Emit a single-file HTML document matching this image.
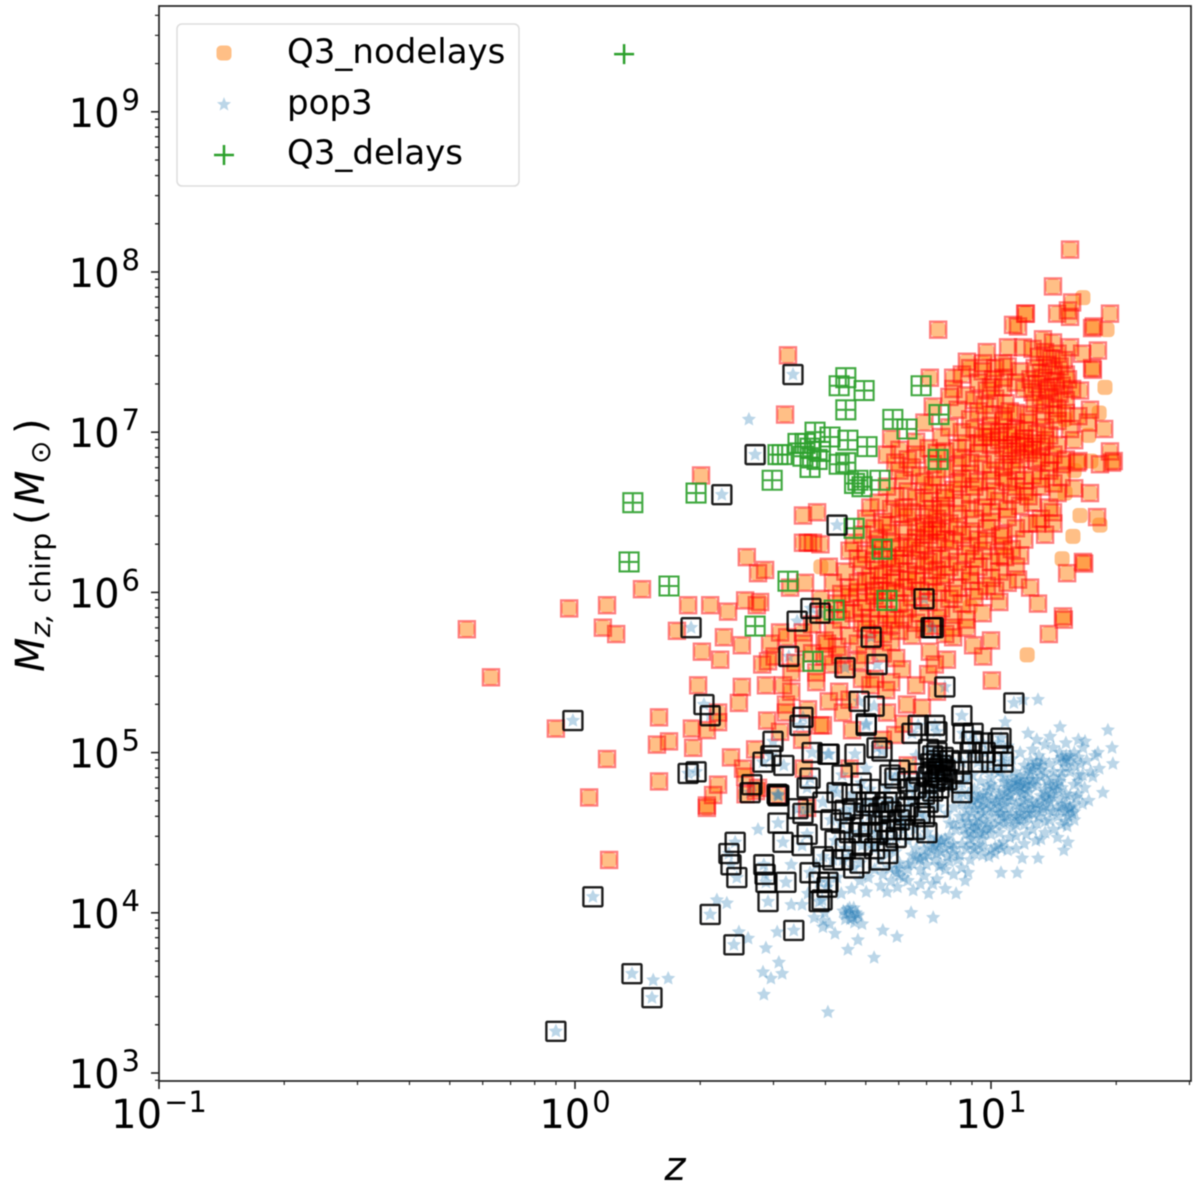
<!DOCTYPE html>
<html lang="en">
<head>
<meta charset="utf-8">
<title>Chirp mass vs redshift</title>
<style>
html,body{margin:0;padding:0;background:#fff;}
svg{display:block;filter:blur(0.45px);}
text{font-family:"DejaVu Sans","Liberation Sans",sans-serif;fill:#000;}
</style>
</head>
<body>
<svg id="chart" xmlns="http://www.w3.org/2000/svg" width="1200" height="1194" viewBox="0 0 1200 1194">
  <rect x="159" y="6" width="1032" height="1075" fill="#fff"/>
  <g id="marks"></g>
  <g id="axes"></g>
  <rect x="159" y="6" width="1032" height="1075" fill="none" stroke="#222" stroke-width="1.7"/>
  <g>
    <rect x="177" y="24" width="342" height="162" rx="5" fill="#fff" fill-opacity="0.8" stroke="#ddd" stroke-width="1.5"/>
    <rect x="216.5" y="45.5" width="15" height="15" rx="4.5" fill="#ff7f0e" fill-opacity="0.5"/>
    <text x="287" y="63" font-size="34">Q3_nodelays</text>
    <polygon points="224,97 225.9,101.9 231.1,102.2 227.1,105.5 228.4,110.6 224,107.8 219.6,110.6 220.9,105.5 216.9,102.2 222.1,101.9" fill="#1f77b4" fill-opacity="0.3"/>
    <text x="287" y="114" font-size="34">pop3</text>
    <path d="M214 155H234M224 145V165" stroke="#2ca02c" stroke-width="2.5" fill="none"/>
    <text x="287" y="164" font-size="34">Q3_delays</text>
  </g>
  <text x="675" y="1180" font-size="40" font-style="italic" text-anchor="middle">z</text>
  <text transform="translate(44,672) rotate(-90)" font-size="40"><tspan font-style="italic" x="0" y="0">M</tspan><tspan font-style="italic" font-size="28" x="35" y="6">z,</tspan><tspan font-size="28" x="69" y="6">chirp</tspan><tspan x="147" y="0">(</tspan><tspan font-style="italic" x="167" y="0">M</tspan><tspan font-size="28" x="208" y="6">⊙</tspan><tspan x="238" y="0">)</tspan></text>
</svg>
<script>
// Values: each pair is [log10 z, log10 M_chirp].
const xTickExponents = [-1, 0, 1];
const yTickExponents = [3, 4, 5, 6, 7, 8, 9];
const minorMultipliers = [2, 3, 4, 5, 6, 7, 8, 9];

const q3DelaysOnlyPlus = [[0.118, 9.36]];

const q3Delays = [[.139,6.56],[.130,6.19],[.226,6.04],[.291,6.62],[.488,6.86],[.474,6.70],[.433,5.79],[.512,6.07],[.651,7.34],[.635,7.29],[.695,7.26],[.651,7.14],[.832,7.29],[.875,7.11],[.764,7.08],[.798,7.02],[.873,6.83],[.577,7.00],[.536,6.93],[.553,6.93],[.565,6.90],[.613,6.97],[.656,6.95],[.702,6.91],[.651,6.81],[.548,6.85],[.582,6.83],[.565,6.78],[.680,6.70],[.690,6.66],[.733,6.70],[.671,6.40],[.738,6.27],[.75,5.95],[.623,5.89],[.498,6.86],[.572,5.57],[.635,6.80],[.672,6.68],[.59,6.88]];

const q3Matched = [
[-.26,5.77],[-.202,5.47],[-.046,5.15],[-.014,5.90],[.077,5.92],[.067,5.78],[.099,5.74],[.161,6.02],[.034,4.72],[.077,4.96],[.082,4.33],[.202,5.22],[.202,4.82],[.197,5.05],[.226,5.07],[.284,5.03],[.344,4.80],[.332,4.735],[.317,4.67],[.317,4.655],[.281,5.15],[.317,5.14],[.344,5.25],[.344,5.19],[.394,5.31],[.296,5.42],[.401,5.41],[.459,5.42],[.5,5.42],[.507,5.30],[.507,5.25],[.462,5.20],[.493,5.13],[.589,5.17],[.546,5.08],[.375,4.97],[.433,5.02],[.404,4.90],[.409,4.85],[.486,4.735],[.558,4.655],
[.512,7.48],[.505,7.11],[.303,6.73],[.548,6.48],[.582,6.50],[.548,6.31],[.56,6.31],[.572,6.31],[.59,6.30],[.413,6.22],[.457,6.14],[.44,6.12],[.553,6.06],[.517,6.03],[.272,5.92],[.325,5.92],[.368,5.88],[.409,5.95],[.445,5.94],[.437,5.92],[.245,5.76],[.358,5.72],[.401,5.67],[.305,5.63],[.349,5.58],[.469,5.68],[.493,5.75],[.51,5.72],[.548,5.75],[.45,5.55],[.464,5.57],
[1.0,5.70],[1.139,5.74],[1.175,5.83],[.981,5.60],[.957,5.67],[1.002,5.45],[.853,5.63],[.894,5.58],[.865,5.55],[.849,5.49],[.772,5.59],[.786,5.52],[.748,5.39],[.635,5.38],[.644,5.25],[.798,5.30],[.834,5.28],[.75,5.25],[.666,5.14],[.596,5.17],[.637,5.61],[.606,5.68],[.697,5.61],[.80,4.92],[.909,5.72],[.942,5.78],[.906,5.78],
[1.19,8.14],[1.149,7.91],[1.286,7.74],[1.082,7.74],[1.084,7.74],[1.053,7.67],[1.065,7.66],[.873,7.64],[1.159,7.74],[1.195,7.81],[1.19,7.72],[1.185,7.76],[1.243,7.65],[1.247,7.66],
[.99,7.50],[1.041,7.53],[1.077,7.53],[1.125,7.58],[1.149,7.56],[1.19,7.53],[1.257,7.51],[.942,7.44],[.981,7.43],[1.029,7.43],[.853,7.34],[.909,7.34],[.93,7.36],[.99,7.26],[1.005,7.33],[1.029,7.28],[1.219,7.49],[1.243,7.40],[1.245,7.39],[1.214,7.26],[1.238,7.14],[1.233,7.06],[1.272,7.02],[1.286,6.88],[1.291,6.81],[1.295,6.82],[1.262,6.80],[1.207,6.81],[1.21,6.82],[1.238,6.62],[1.255,6.47],[1.183,6.12],[1.221,6.19],[1.224,6.18],[1.173,5.85],[1.113,5.93],[1.094,6.03],[1.065,6.08],[1.07,6.23],[1.034,6.22],[1.022,6.35],[1.111,6.43],[1.149,6.50],
[1.10,7.52],[1.115,7.47],[1.13,7.50],[1.145,7.46],[1.16,7.49],[1.175,7.45],[1.105,7.40],[1.12,7.37],[1.135,7.42],[1.15,7.38],[1.165,7.41],[1.18,7.36],[1.095,7.33],[1.11,7.30],[1.125,7.34],[1.14,7.28],[1.155,7.32],[1.17,7.29],[1.185,7.33],[1.10,7.25],[1.12,7.22],[1.135,7.26],[1.15,7.21],[1.165,7.24],[1.18,7.20],[1.195,7.27],[1.105,7.18],[1.13,7.17],[1.16,7.15],
[.96,7.20],[.90,7.22],[.985,7.17],[.92,7.14],[1.01,7.21],[1.035,7.18],[.86,7.16],[1.045,7.13],
[.84,7.06],[.90,7.03],[.95,7.08],[1.00,7.04],[1.03,7.07],[1.06,7.02],[1.09,7.06],[1.13,7.03],[1.16,7.07],[1.19,7.02],[1.02,7.00],[1.05,7.00],[1.08,7.01],[1.11,6.99],[1.14,6.98],
[.76,6.96],[.82,6.94],[.88,6.97],[.94,6.93],[.98,6.97],[1.00,6.92],[1.02,6.95],[1.05,6.92],[1.08,6.96],[1.10,6.93],[1.13,6.95],[1.16,6.92],[1.20,6.95],[1.04,6.98],[1.07,6.94],[1.12,6.91],
[.75,6.86],[.80,6.83],[.87,6.87],[.93,6.84],[.97,6.87],[1.01,6.83],[1.04,6.86],[1.07,6.83],[1.09,6.87],[1.12,6.84],[1.15,6.86],[1.18,6.83],[1.03,6.90],[1.10,6.89],
[.78,6.76],[.83,6.73],[.89,6.77],[.95,6.74],[1.00,6.76],[1.03,6.72],[1.06,6.76],[1.10,6.73],[1.14,6.76],[1.17,6.72],
[.75,6.66],[.80,6.63],[.86,6.67],[.91,6.64],[.96,6.66],[1.01,6.63],[1.06,6.66],[1.08,6.63],[1.12,6.66],[1.16,6.62],[1.20,6.65],[.92,6.68],[.89,6.62],
[.73,6.56],[.79,6.53],[.84,6.57],[.88,6.54],[.93,6.56],[.98,6.53],[1.02,6.57],[1.07,6.54],[1.10,6.56],[1.14,6.53],[.86,6.52],[.82,6.59],
[.70,6.46],[.74,6.44],[.80,6.47],[.84,6.43],[.87,6.46],[.90,6.43],[.96,6.46],[1.00,6.44],[1.04,6.47],[1.09,6.43],[1.12,6.46],[1.15,6.43],[.82,6.41],[.78,6.49],
[.69,6.36],[.73,6.33],[.76,6.37],[.82,6.34],[.85,6.36],[.89,6.33],[.93,6.36],[.97,6.33],[1.03,6.36],[1.08,6.33],[1.13,6.36],[.80,6.31],[.87,6.39],
[.66,6.26],[.70,6.24],[.74,6.27],[.79,6.23],[.83,6.26],[.86,6.23],[.90,6.27],[.94,6.24],[.98,6.26],[1.02,6.23],[1.05,6.27],[.81,6.28],[.77,6.21],
[.61,6.16],[.65,6.13],[.69,6.17],[.73,6.14],[.76,6.16],[.80,6.13],[.84,6.17],[.87,6.14],[.90,6.16],[.93,6.13],[.97,6.16],[1.02,6.13],[1.06,6.16],[.78,6.18],[.74,6.11],[.82,6.11],
[.62,6.06],[.66,6.03],[.70,6.07],[.73,6.04],[.76,6.06],[.79,6.03],[.82,6.07],[.85,6.04],[.88,6.06],[.92,6.03],[.95,6.07],[.99,6.04],[1.04,6.06],[.75,6.01],[.68,6.00],
[.59,5.96],[.63,5.93],[.66,5.97],[.70,5.94],[.74,5.96],[.78,5.93],[.81,5.97],[.85,5.94],[.90,5.96],[.93,5.93],[.96,5.97],[1.02,5.94],[.72,5.98],
[.60,5.86],[.64,5.83],[.67,5.87],[.71,5.84],[.75,5.86],[.77,5.83],[.83,5.87],[.87,5.84],[.91,5.86],[.94,5.83],[.98,5.87],[.65,5.89],
[.62,5.76],[.66,5.73],[.70,5.77],[.74,5.74],[.78,5.76],[.81,5.73],[.84,5.77],[.89,5.74],[.57,5.80],[.55,5.68],[.60,5.60],[.65,5.52],[.69,5.46],[.71,5.42],[.58,5.44],[.53,5.56],[.48,5.60],[.52,5.38],[.61,5.32],[.56,5.27],[.66,5.33],
[.41,4.74],[.44,4.78],[.435,4.76],[.55,4.90],[.72,5.46],[.76,5.44],[.82,5.42],[.87,5.38],[.79,5.18],[.74,5.08],[.77,5.11],[.66,4.90],
[.95,7.40],[.98,7.38],[1.01,7.40],[1.04,7.41],[1.07,7.38],[.97,7.31],[1.00,7.28],[1.03,7.34],[1.06,7.31],[1.08,7.27],[.91,7.27],[.94,7.23],[.97,7.13],[1.00,7.11],[1.03,7.10],[1.06,7.12],[1.09,7.11],[1.12,7.10],[1.15,7.11],[1.18,7.12],[1.21,7.10],[.93,7.00],[.96,7.02],[.99,7.00],[1.00,6.97],[.97,6.93],[.92,6.90],[.89,6.88],[.85,6.90],[.82,6.86],[.78,6.89],[1.06,6.88],[1.08,6.91],[1.11,6.82],[1.14,6.81],[1.17,6.80],[1.05,6.80],[1.03,6.78],[.98,6.80],[.95,6.81],[.92,6.79],[.86,6.80],[.81,6.78],[.77,6.81],[1.08,6.70],[1.12,6.71],[1.04,6.69],[1.00,6.70],[.97,6.69],[.93,6.71],[.87,6.72],[.84,6.69],[.79,6.70],[1.15,6.68],[1.09,6.60],[1.05,6.61],[.99,6.60],[.95,6.61],[.89,6.59],[.85,6.62],[.77,6.60],[.76,6.52],[.81,6.50],[.85,6.49],[.89,6.50],[.92,6.49],[.95,6.52],[1.00,6.50],[1.04,6.52],[.71,6.53],[.72,6.40],[.75,6.42],[.79,6.39],[.84,6.38],[.86,6.41],[.88,6.38],[.92,6.41],[.95,6.38],[.99,6.40],[1.06,6.40],[.67,6.31],[.72,6.29],[.76,6.31],[.78,6.28],[.84,6.30],[.87,6.31],[.91,6.32],[.95,6.29],[.99,6.32],[1.03,6.29],[.68,6.21],[.72,6.20],[.75,6.22],[.82,6.20],[.85,6.19],[.88,6.21],[.92,6.19],[.96,6.21],[1.00,6.19],[.71,6.10],[.77,6.09],[.80,6.08],[.86,6.10],[.89,6.11],[.95,6.11],[1.00,6.09],[.68,6.06],[.72,6.01],[.77,6.00],[.83,6.01],[.87,6.00],[.91,5.99],[.97,6.01],[1.01,6.01],[.88,5.90],[.80,5.90],[.73,5.90],[.69,5.90],[.64,5.99],
[.82,5.81],[.79,5.84],[.76,5.80],[.73,5.80],[.69,5.81],[.86,5.79],[.60,5.70],[.63,5.66],[.68,5.68],[.72,5.70],[.76,5.69],[.57,5.62],[.62,5.55],[.68,5.57],[.74,5.62],[.52,5.50],[.58,5.50]
];

const q3Unmatched = [[1.221,7.84],[1.279,7.64],[1.274,7.28],[1.26,7.12],[1.178,7.08],[1.262,6.42],[1.197,6.35],[1.171,6.21],[.591,6.16],[.95,5.91],[1.087,5.61],[1.178,6.62],[1.214,6.48],[1.235,6.98],[1.20,6.76],[1.24,6.82]];

const pop3Matched = [
[.524,7.36],[.433,6.86],[.353,6.61],[.63,6.42],[.279,5.78],[.567,5.90],[.589,5.87],[.534,5.82],[.839,5.96],[.861,5.78],[.856,5.78],[.712,5.72],[.726,5.55],[.649,5.53],[.514,5.60],[.889,5.41],[1.055,5.31],[.31,5.30],[.325,5.23],[-.005,5.20],[.683,5.32],[.719,5.29],[.548,5.22],[.541,5.17],[.476,5.07],[.471,4.98],[.452,4.94],[.502,4.92],[.57,5.00],[.608,4.99],[.272,4.87],[.291,4.88],[.425,4.80],[.421,4.75],[.488,4.73],[.486,4.74],[.49,4.735],[.565,4.84],[.558,4.78],[.536,4.65],[.548,4.62],[.596,4.69],[.488,4.56],[.5,4.44],[.558,4.49],[.546,4.42],[.385,4.44],[.37,4.37],[.375,4.30],[.389,4.22],[.454,4.30],[.457,4.24],[.459,4.19],[.507,4.19],[.464,4.07],[.565,4.25],[.587,4.19],[.587,4.07],[.043,4.10],[.325,3.99],[.382,3.80],[.526,3.89],[.137,3.62],[.185,3.47],[-.046,3.26],[.596,4.35],[.606,4.16],
[.81,5.12],[.70,5.18],[.70,5.17],[.93,5.23],[.825,5.17],[.865,5.17],[.87,5.13],[.957,5.12],[.933,5.12],[.954,5.07],[1.024,5.09],[1.017,5.06],[.986,5.00],[1.029,4.98],[1.002,4.94],[1.029,4.94],[.969,4.94],[.93,4.94],[.611,4.99],[.673,4.99],[.726,5.03],[.738,5.01],[.87,5.00],
[.85,5.02],[.86,4.98],[.87,4.95],[.855,4.93],[.875,4.90],[.86,4.88],[.88,4.92],[.87,4.86],[.885,4.97],[.85,4.85],[.865,4.82],[.88,4.84],[.89,4.89],[.875,4.78],[.86,4.76],
[.93,4.81],[.93,4.75],[.757,4.86],[.769,4.84],[.642,4.86],[.688,4.81],[.827,4.87],[.63,4.75],[.668,4.65],[.721,4.69],[.769,4.69],[.75,4.69],[.873,4.66],[.849,4.69],[.615,4.58],[.69,4.55],[.745,4.57],[.846,4.50],[.683,4.50],[.772,4.47],[.728,4.50],[.752,4.37],[.685,4.31],[.644,4.33],[.62,4.33],[.608,4.19],[.594,4.08],
[.666,4.74],[.709,4.77],[.649,4.64],[.625,4.45],[.709,4.61],[.793,4.61],[.805,4.77],[.733,4.33],[.78,4.89],[.817,4.52],[.894,4.83],
[.74,4.66],[.76,4.63],[.70,4.69],[.73,4.62],[.78,4.58],[.80,4.66],[.83,4.62],[.71,4.50],[.75,4.45],[.69,4.42],[.65,4.40],[.66,4.50],[.64,4.56],[.80,4.82],[.82,4.78],[.84,4.60],[.79,4.52],[.76,4.52],[.72,4.40],[.67,4.28],[.84,4.74],[.90,4.95],[.91,4.88],[.95,5.00],[.98,5.06]
];

const pop3Unmatched = [
[.418,7.08],[1.281,5.14],[1.291,5.03],[1.293,4.93],[1.269,4.75],[1.166,5.16],[1.142,5.10],[1.113,5.33],[1.077,5.33],[1.034,5.19],[1.089,5.12],[1.11,5.08],[1.226,5.07],[1.221,5.03],[1.257,5.00],[1.245,4.85],[1.183,4.54],[1.185,4.44],[1.175,4.39],[1.108,4.45],[1.113,4.34],[1.075,4.34],[1.063,4.25],[1.024,4.25],[.916,4.12],[.938,4.20],[.861,3.97],[.813,4.14],[.808,4.00],[.774,3.85],[.74,3.89],[.719,3.72],[.656,3.77],[.68,3.83],[.625,3.87],[.596,3.91],
[.341,4.08],[.365,4.06],[.394,3.88],[.416,3.84],[.486,3.88],[.459,3.78],[.49,3.69],[.452,3.63],[.471,3.59],[.498,3.62],[.454,3.49],[.188,3.58],[.224,3.59],[.608,3.38],[.546,4.05],[.575,3.97],[.596,3.95],[.612,3.93],
[.655,4.02],[.66,4.00],[.668,3.97],[.675,4.00],[.662,3.96],[.65,3.99],[.67,4.03],[.68,3.98],[.645,4.01],[.672,3.94],[.69,3.93],
[1.07,4.81],[1.05,4.84],[1.09,4.78],[1.04,4.78],[1.08,4.86],[1.06,4.76],[1.10,4.83],[1.03,4.82],[1.075,4.74],[1.055,4.88],[1.095,4.87],[1.065,4.83],[1.085,4.81],[1.045,4.73],[1.11,4.79],
[1.013,4.70],[.99,4.73],[1.03,4.67],[1.00,4.66],[1.02,4.74],[.98,4.69],[1.04,4.71],[1.01,4.63],[.995,4.76],[1.025,4.62],
[.965,4.54],[.945,4.57],[.985,4.51],[.95,4.50],[.97,4.60],[.99,4.56],[.96,4.47],[.935,4.52],[1.00,4.53],[.98,4.46],[.955,4.62],[.925,4.60],
[1.109,4.68],[1.09,4.71],[1.125,4.65],[1.10,4.62],[1.12,4.73],[1.08,4.66],[1.14,4.69],[1.115,4.60],[1.07,4.69],[1.13,4.72],
[1.149,4.79],[1.135,4.82],[1.16,4.76],[1.145,4.74],[1.165,4.82],[1.13,4.77],[1.15,4.84],
[1.189,4.65],[1.18,4.68],[1.195,4.62],[1.20,4.67],[1.185,4.60],[1.17,4.64],[1.16,4.60],[1.15,4.63],
[1.109,4.92],[1.095,4.95],[1.12,4.89],[1.10,4.89],[1.125,4.95],[1.115,4.98],[1.08,4.92],[1.14,4.93],
[1.061,4.58],[1.04,4.60],[1.08,4.55],[1.05,4.53],[1.07,4.62],[1.03,4.55],[1.09,4.59],[1.02,4.50],[1.06,4.48],[1.10,4.52],[1.045,4.47],[1.085,4.49],
[.973,4.73],[.955,4.70],[.96,4.77],[.945,4.74],[.93,4.68],[.975,4.65],[.94,4.64],
[.881,4.45],[.90,4.48],[.865,4.42],[.89,4.40],[.87,4.47],[.91,4.43],[.855,4.46],[.88,4.38],[.915,4.52],[.90,4.56],
[1.181,4.98],[1.165,5.00],[1.19,4.95],[1.175,4.94],[1.20,5.00],[1.16,4.95],[1.215,4.93],[1.21,4.86],[1.23,4.95],[1.19,4.88],[1.17,4.88],[1.20,4.80],[1.225,4.78],
[.961,4.37],[.94,4.40],[.98,4.36],[.95,4.33],[.925,4.36],[1.009,4.37],[1.025,4.40],[.995,4.35],[1.02,4.42],[.97,4.42],[1.04,4.39],[1.06,4.40],[1.08,4.43],
[.829,4.33],[.845,4.30],[.81,4.36],[.85,4.36],[.83,4.27],[.865,4.33],[.80,4.30],[.875,4.29],[.84,4.23],[.89,4.27],[.82,4.40],[.90,4.32],
[.773,4.25],[.79,4.22],[.755,4.28],[.78,4.31],[.76,4.20],[.80,4.20],[.74,4.24],[.775,4.16],[.72,4.27],[.705,4.22],[.735,4.17],[.685,4.20],[.75,4.13],[.70,4.13],[.665,4.15],[.64,4.12],
[.909,4.37],[.92,4.33],[.895,4.35],[.93,4.28],[.88,4.30],[.91,4.24],[.87,4.21],[.945,4.25],[.83,4.18],[.85,4.12],[.86,4.18],[.89,4.15],
[1.15,4.52],[1.13,4.50],[1.17,4.55],[1.12,4.46],[1.14,4.58],[1.16,4.47],[1.205,4.72],[1.235,4.70],[1.21,5.08],[1.18,5.06],[1.15,5.03],[1.13,5.05],[1.10,5.02],[1.07,5.00],[1.05,4.96],[1.04,5.04],[1.26,4.90],[1.25,4.98],[1.24,4.88],
[.91,4.66],[.895,4.62],[.92,4.72],[.905,4.78],[.94,4.84],[.955,4.86],[.975,4.82],[1.00,4.84],[1.01,4.89],[1.03,4.92],[.985,4.89],[.91,4.55],
[.58,4.30],[.63,4.22],[.56,4.12],[.60,4.00],[.52,4.05],[.66,4.35],[.71,4.42],[.77,4.38],[.74,4.45],[.80,4.45],[.83,4.46],[.79,4.55],[.69,4.66],[.75,4.78],[.81,4.70],[.66,4.60],[.52,4.30],[.44,4.52],[.56,4.65],[.62,4.78],[.70,4.90],[.82,4.98],
[1.07,4.79],[1.06,4.82],[1.08,4.80],[1.05,4.80],[1.09,4.83],[1.07,4.85],[1.06,4.79],[1.04,4.81],[1.08,4.77],[1.10,4.80],[1.03,4.76],[1.05,4.77],[1.07,4.75],[1.09,4.75],[1.02,4.72],[1.04,4.75],[1.01,4.68],[1.03,4.70],[1.00,4.71],[1.05,4.70],[.99,4.68],[1.02,4.66],[1.04,4.65],[1.06,4.67],[1.08,4.70],[1.10,4.69],[1.12,4.70],[1.11,4.66],[1.09,4.65],[1.07,4.64],[1.13,4.67],[1.12,4.63],[1.10,4.65],
[1.06,4.60],[1.04,4.57],[1.05,4.62],[1.07,4.58],[1.08,4.60],[1.03,4.60],[1.02,4.57],[1.01,4.55],[1.06,4.55],[1.09,4.62],[.97,4.55],[.96,4.52],[.98,4.58],[.95,4.54],[.96,4.57],[.99,4.53],[.97,4.50],[.94,4.49],[.98,4.49],[1.00,4.49],[.95,4.46],[.93,4.56],[.94,4.60],
[.97,4.71],[.98,4.74],[.96,4.72],[.95,4.68],[.96,4.65],[.98,4.62],[1.00,4.60],[1.02,4.62],[.99,4.64],[.97,4.67],
[1.15,4.77],[1.14,4.80],[1.16,4.80],[1.15,4.72],[1.13,4.75],[1.17,4.78],[1.14,4.71],[1.19,4.66],[1.18,4.63],[1.20,4.63],[1.17,4.67],[1.16,4.66],[1.14,4.64],[1.10,4.91],[1.11,4.94],[1.12,4.92],[1.09,4.90],[1.18,4.96],[1.17,4.97],[1.19,4.98],[1.20,4.92],[1.18,4.91],[1.21,4.97],
[.88,4.44],[.89,4.46],[.87,4.42],[.90,4.42],[.86,4.40],[.84,4.39],[.85,4.41],[.87,4.37],[.83,4.34],[.84,4.35],[.82,4.35],[.81,4.31],[.80,4.27],[.78,4.28],[.77,4.27],[.78,4.23],[.96,4.40],[.98,4.41],[1.00,4.39],[1.01,4.41],[1.03,4.44],[.93,4.43],[.95,4.42],[.91,4.40],[.68,3.99],[.66,4.03],[.65,3.96],
[1.03,4.85],[1.02,4.88],[1.00,4.80],[.99,4.79],[1.01,4.78],[1.12,4.85],[1.13,4.87],[1.11,4.83],[1.15,4.88],[1.17,4.85],[1.21,4.82],[1.22,4.86],[1.18,4.74],[1.21,4.74],[1.19,4.73],[1.17,4.71],[1.22,4.68],[1.20,4.58],[1.18,4.57],[1.13,4.57],[1.11,4.56]
];

const SVG_NS = 'http://www.w3.org/2000/svg';
function xScale(logZ) { return 575 + 416 * logZ; }
function yScale(logM) { return 1073 - 160.2 * (logM - 3); }

const marksLayer = document.getElementById('marks');
const axesLayer = document.getElementById('axes');

function svgEl(tag, attrs, parent) {
  const el = document.createElementNS(SVG_NS, tag);
  for (const key in attrs) { el.setAttribute(key, attrs[key]); }
  parent.appendChild(el);
  return el;
}

function starPoints(cx, cy) {
  const pts = [];
  for (let i = 0; i < 10; i++) {
    const r = i % 2 === 0 ? 7.5 : 3.6;
    const a = -Math.PI / 2 + i * Math.PI / 5;
    pts.push((cx + r * Math.cos(a)).toFixed(1) + ',' + (cy + r * Math.sin(a)).toFixed(1));
  }
  return pts.join(' ');
}

function drawOrange(points) {
  for (const p of points) {
    const el = svgEl('rect', {x: xScale(p[0]) - 7.5, y: yScale(p[1]) - 7.5, width: 15, height: 15, rx: 4.5, fill: '#ff7f0e', 'fill-opacity': 0.5}, marksLayer);
    
    
  }
}
function drawStars(points) {
  for (const p of points) {
    const el = svgEl('polygon', {points: starPoints(xScale(p[0]), yScale(p[1])), fill: '#1f77b4', 'fill-opacity': 0.3}, marksLayer);
    
    
  }
}

drawOrange(q3Matched);
drawOrange(q3Unmatched);
drawStars(pop3Unmatched);
drawStars(pop3Matched);

for (const p of q3Matched) {
  const el = svgEl('rect', {x: xScale(p[0]) - 8, y: yScale(p[1]) - 8, width: 16, height: 16, fill: 'none', stroke: '#ff0000', 'stroke-opacity': 0.5, 'stroke-width': 2.4}, marksLayer);
  
  
}
for (const p of q3Delays) {
  const cx = xScale(p[0]), cy = yScale(p[1]);
  const el = svgEl('path', {d: 'M' + (cx - 9.5) + ' ' + (cy - 9.5) + 'h19v19h-19zM' + (cx - 9.5) + ' ' + cy + 'h19M' + cx + ' ' + (cy - 9.5) + 'v19', fill: 'none', stroke: '#2ca02c', 'stroke-opacity': 0.9, 'stroke-width': 2.1}, marksLayer);
  
  
}
for (const p of q3DelaysOnlyPlus) {
  const cx = xScale(p[0]), cy = yScale(p[1]);
  const el = svgEl('path', {d: 'M' + (cx - 10) + ' ' + cy + 'h20M' + cx + ' ' + (cy - 10) + 'v20', fill: 'none', stroke: '#2ca02c', 'stroke-width': 2.5}, marksLayer);
  
  
}
for (const p of pop3Matched) {
  const el = svgEl('rect', {x: xScale(p[0]) - 9.5, y: yScale(p[1]) - 9.5, width: 19, height: 19, rx: 1, fill: 'none', stroke: '#000', 'stroke-opacity': 0.88, 'stroke-width': 2.4}, marksLayer);
  
  
}

// Axes
const frameBottom = 1081, frameLeft = 159, frameRight = 1191, frameTop = 6;
function drawXTick(logZ, len) {
  if (xScale(logZ) < frameLeft - 0.5 || xScale(logZ) > frameRight + 0.5) return;
  const el = svgEl('line', {x1: xScale(logZ), x2: xScale(logZ), y1: frameBottom, y2: frameBottom + len, stroke: '#222', 'stroke-width': len > 5 ? 1.6 : 1.2}, axesLayer);
  
  
}
function drawYTick(logM, len) {
  if (yScale(logM) > frameBottom + 0.5 || yScale(logM) < frameTop - 0.5) return;
  const el = svgEl('line', {x1: frameLeft - len, x2: frameLeft, y1: yScale(logM), y2: yScale(logM), stroke: '#222', 'stroke-width': len > 5 ? 1.6 : 1.2}, axesLayer);
  
  
}
function addPower(textEl, exponent, dy) {
  const base = svgEl('tspan', {}, textEl);
  base.textContent = '10';
  const sup = svgEl('tspan', {'font-size': 29, dy: dy, dx: 2}, textEl);
  sup.textContent = String(exponent).replace('-', '\u2212');
}
for (const e of xTickExponents) {
  drawXTick(e, 8);
  for (const m of minorMultipliers) drawXTick(e + Math.log10(m), 4);
  const label = svgEl('text', {x: xScale(e), y: 1128, 'font-size': 40, 'text-anchor': 'middle'}, axesLayer);
  
  
  addPower(label, e, -16);
}
for (const e of yTickExponents) {
  drawYTick(e, 8);
  for (const m of minorMultipliers) drawYTick(e + Math.log10(m), 4);
  for (const m of minorMultipliers) drawYTick(e - 1 + Math.log10(m), 4);
  const label = svgEl('text', {x: 140, y: yScale(e) + 15, 'font-size': 40, 'text-anchor': 'end'}, axesLayer);
  
  
  addPower(label, e, -17);
}
</script>
</body>
</html>
